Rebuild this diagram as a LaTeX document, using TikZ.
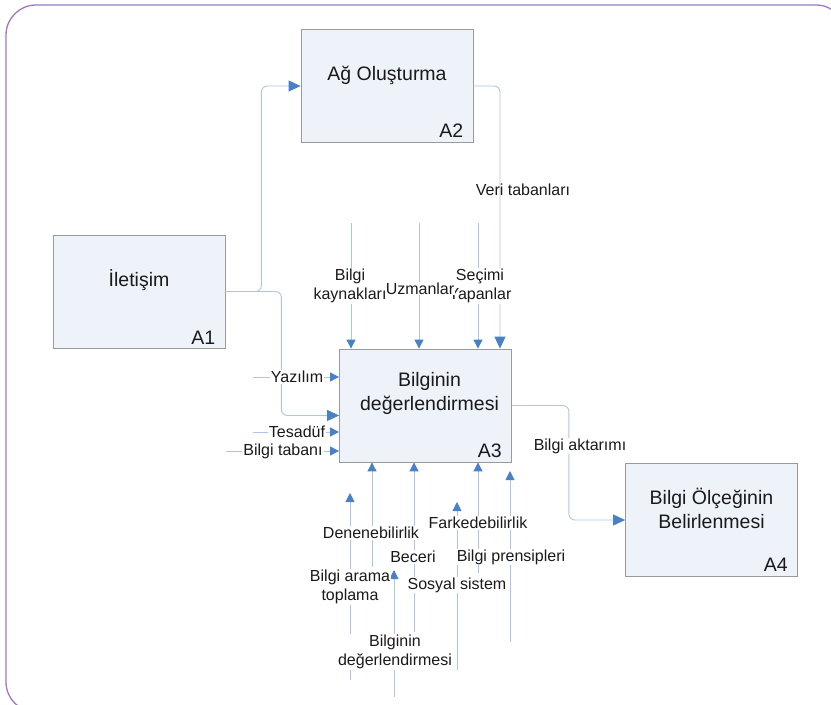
\documentclass[tikz,border=0pt]{standalone}
\usepackage{fontspec}
\setmainfont{Liberation Sans}
\usetikzlibrary{arrows.meta}
\definecolor{framepurple}{HTML}{9E78C4}
\definecolor{linkblue}{HTML}{A9C6EA}
\definecolor{tipblue}{HTML}{4A80C4}
\definecolor{boxfill}{HTML}{EEF2F9}
\definecolor{boxedge}{HTML}{9A9A9A}
\definecolor{ink}{HTML}{1A1A1A}
\begin{document}
\begin{tikzpicture}[x=1pt,y=-1pt,
  box/.style={draw=boxedge, fill=boxfill, line width=0.8pt,
    minimum width=172pt, minimum height=113pt, inner sep=0pt},
  title/.style={text=ink, font=\fontsize{19.5}{24}\selectfont, align=center, inner sep=0pt},
  tag/.style={text=ink, font=\fontsize{19.5}{22}\selectfont, anchor=base east, inner sep=0pt},
  lbl/.style={text=ink, font=\fontsize{16}{18.5}\selectfont, align=center,
    fill=white, inner sep=1pt},
  plainlbl/.style={text=ink, font=\fontsize{16}{18.5}\selectfont, align=center, inner sep=1pt},
  link/.style={draw=linkblue, line width=0.9pt, rounded corners=6pt},
  bigtip/.style={-{Triangle[length=12pt,width=11pt,color=tipblue]}},
  intip/.style={-{Triangle[length=9pt,width=9pt,color=tipblue]}},
]
\useasboundingbox (0,0) rectangle (831,705);

% outer frame
\draw[framepurple, line width=1.3pt, rounded corners=30pt] (6,5) rectangle (846,712);

% activity boxes
\node[box] (A1) at (139,291.5) {};
\node[box] (A2) at (387,86) {};
\node[box] (A3) at (425.5,405.5) {};
\node[box] (A4) at (711.5,520) {};

\node[title] (A1t) at ([yshift=11pt]A1.center) {İletişim};
\node[title] (A2t) at ([yshift=11pt]A2.center) {Ağ Oluşturma};
\node[title] (A3t) at ([yshift=12pt,xshift=4pt]A3.center) {Bilginin\\değerlendirmesi};
\node[title] (A4t) at ([yshift=12pt]A4.center) {Bilgi Ölçeğinin\\Belirlenmesi};

\node[tag] (A1n) at ([xshift=-10pt,yshift=4pt]A1.south east) {A1};
\node[tag] (A2n) at ([xshift=-10pt,yshift=5pt]A2.south east) {A2};
\node[tag] (A3n) at ([xshift=-10pt,yshift=5pt]A3.south east) {A3};
\node[tag] (A4n) at ([xshift=-10pt,yshift=5pt]A4.south east) {A4};

% flows between activities
\draw[link,bigtip] (A1.east) -- ++(36,0) |- (A2.west);
\draw[link,bigtip] (A1.east) -- ++(56,0) |- ([yshift=-10pt]A3.west);
\draw[link,bigtip] (A2.east) -| ([xshift=74.5pt]A3.north);
\draw[link,bigtip] (A3.east) -- ++(57,0) |- (A4.west);

% controls from above
\coordinate (c1) at (351,223);
\coordinate (c2) at (419,223);
\coordinate (c3) at (478,223);
\foreach \c in {c1,c2,c3}
  \draw[link,intip] (\c) -- (\c |- A3.north);

% inputs from the left
\coordinate (i1) at (253,377);
\coordinate (i2) at (253,432);
\coordinate (i3) at (226,451);
\foreach \c in {i1,i2,i3}
  \draw[link,intip] (\c) -- (\c -| A3.west);

% mechanisms from below
\coordinate (m1) at (372,567);
\coordinate (m2) at (414,632);
\coordinate (m3) at (478,573);
\draw[link,intip] (m1) -- (m1 |- A3.south);
\draw[link,intip] (m2) -- (m2 |- A3.south);
\draw[link,intip] (m3) -- (m3 |- A3.south);

\coordinate (m4) at (510,642);  \coordinate (m4t) at (510,471);
\coordinate (m5) at (350,680);  \coordinate (m5t) at (350,493);
\coordinate (m6) at (394,697);  \coordinate (m6t) at (394,570);
\coordinate (m7) at (457,670);  \coordinate (m7t) at (457,502);
\draw[link,intip] (m4) -- (m4t);
\draw[link,intip] (m5) -- (m5t);
\draw[link,intip] (m6) -- (m6t);
\draw[link,intip] (m7) -- (m7t);

% labels
\node[plainlbl] (lveri) at (523,190) {Veri tabanları};
\node[lbl] (lkay) at (350,286) {Bilgi\\kaynakları};
\node[lbl] (lsec) at (480,286) {Seçimi\\Yapanlar};
\node[lbl] (luzm) at (420,288.5) {Uzmanlar};

\node[lbl] (lyaz) at (297,377) {Yazılım};
\node[lbl] (ltes) at (297,432) {Tesadüf};
\node[lbl] (ltab) at (283,451) {Bilgi tabanı};

\node[lbl] (lakt) at (580,446) {Bilgi aktarımı};

\node[lbl] (lfark) at (478,523) {Farkedebilirlik};
\node[lbl] (lden) at (371,533) {Denenebilirlik};
\node[lbl] (lbec) at (413,557) {Beceri};
\node[lbl] (lpre) at (511,557) {Bilgi prensipleri};
\node[lbl] (lsos) at (457,585) {Sosyal sistem};
\node[lbl] (lara) at (350,587) {Bilgi arama\\toplama};
\node[lbl] (ldeg) at (395,652) {Bilginin\\değerlendirmesi};
\end{tikzpicture}
\end{document}
